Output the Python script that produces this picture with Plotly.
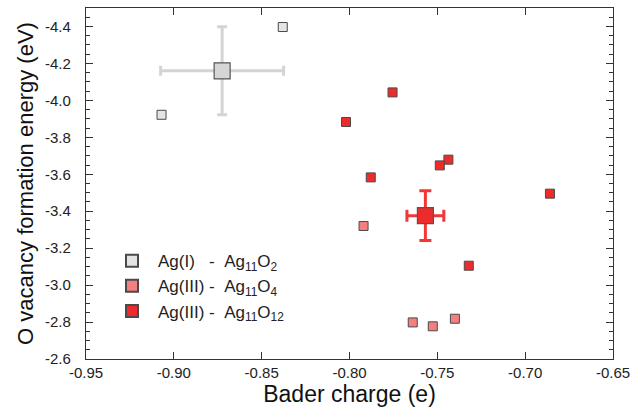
import plotly.graph_objects as go

# Ag(I) - Ag11O2
ag1_x = [-0.907, -0.838]
ag1_y = [-3.922, -4.397]
# Ag(III) - Ag11O4
ag3a_x = [-0.792, -0.764, -0.7526, -0.740]
ag3a_y = [-3.320, -2.798, -2.777, -2.818]
# Ag(III) - Ag11O12
ag3b_x = [-0.7755, -0.802, -0.7437, -0.7486, -0.7879, -0.6859, -0.7321]
ag3b_y = [-4.043, -3.883, -3.679, -3.648, -3.583, -3.495, -3.105]

# averages with spread
mean_x = [-0.8725, -0.7568]
mean_y = [-4.16, -3.376]
err_x = [0.035, 0.0105]
err_y = [0.238, 0.135]

x_ticks = [-0.95, -0.90, -0.85, -0.80, -0.75, -0.70, -0.65]
y_ticks = [-4.4, -4.2, -4.0, -3.8, -3.6, -3.4, -3.2, -3.0, -2.8, -2.6]

font = "Liberation Sans, Arial, sans-serif"
edge = "#4a4a4a"

fig = go.Figure()

fig.add_trace(go.Scatter(
    x=[mean_x[0]], y=[mean_y[0]], mode="markers", showlegend=False,
    marker=dict(symbol="square", size=16, color="#d6d6d6", line=dict(color="#555", width=1.2)),
    error_x=dict(type="data", array=[err_x[0]], color="#d4d4d4", thickness=3, width=5),
    error_y=dict(type="data", array=[err_y[0]], color="#d4d4d4", thickness=3, width=5),
))
fig.add_trace(go.Scatter(
    x=[mean_x[1]], y=[mean_y[1]], mode="markers", showlegend=False,
    marker=dict(symbol="square", size=16, color="#ee2b2b", line=dict(color="#555", width=1.2)),
    error_x=dict(type="data", array=[err_x[1]], color="#f03838", thickness=3, width=6),
    error_y=dict(type="data", array=[err_y[1]], color="#f03838", thickness=3, width=6),
))

nb = "\u00a0"
fig.add_trace(go.Scatter(
    x=ag1_x, y=ag1_y, mode="markers",
    name="Ag(I)" + nb * 3 + "-" + nb * 2 + "Ag<sub>11</sub>O<sub>2</sub>",
    marker=dict(symbol="square", size=9, color="#e4e4e4", line=dict(color=edge, width=1)),
))
fig.add_trace(go.Scatter(
    x=ag3a_x, y=ag3a_y, mode="markers",
    name="Ag(III)" + nb + "-" + nb * 2 + "Ag<sub>11</sub>O<sub>4</sub>",
    marker=dict(symbol="square", size=9, color="#f28080", line=dict(color=edge, width=1)),
))
fig.add_trace(go.Scatter(
    x=ag3b_x, y=ag3b_y, mode="markers",
    name="Ag(III)" + nb + "-" + nb * 2 + "Ag<sub>11</sub>O<sub>12</sub>",
    marker=dict(symbol="square", size=9, color="#ee2b2b", line=dict(color=edge, width=1)),
))

axis_common = dict(
    showline=True, linecolor="#333", linewidth=1.2, mirror="allticks",
    ticks="inside", tickcolor="#333", tickwidth=1.2, ticklen=7,
    showgrid=False, zeroline=False, automargin=False,
    tickfont=dict(family=font, size=15, color="#222"),
)

fig.update_xaxes(
    range=[-0.95, -0.65], tickmode="array", tickvals=x_ticks,
    ticktext=["%.2f" % v for v in x_ticks],
    title=dict(text="Bader charge (e)", font=dict(family=font, size=23, color="#111"), standoff=5),
    ticklabelstandoff=0,
    **axis_common,
)
fig.update_yaxes(
    range=[-2.6, -4.5], tickmode="array", tickvals=y_ticks,
    ticktext=["%.1f" % v for v in y_ticks],
    title=dict(text="O vacancy formation energy (eV)", font=dict(family=font, size=22, color="#111"), standoff=5),
    minor=dict(dtick=0.05, tick0=-2.6, ticks="inside", ticklen=4, tickcolor="#333", tickwidth=1),
    ticklabelstandoff=11,
    **axis_common,
)

fig.update_layout(
    width=633, height=410,
    margin=dict(l=86, r=20, t=8, b=51),
    plot_bgcolor="white", paper_bgcolor="white",
    font=dict(family=font),
    legend=dict(
        x=0.038, y=0.33, xanchor="left", yanchor="top",
        font=dict(family=font, size=17, color="#222"),
        bgcolor="rgba(0,0,0,0)", itemwidth=42, itemsizing="constant",
        tracegroupgap=0,
    ),
)

# drop the default body margin so the figure fills the window exactly
fig.write_html("out.html", config={"displayModeBar": False},
               post_script="document.body.style.margin='0';")
